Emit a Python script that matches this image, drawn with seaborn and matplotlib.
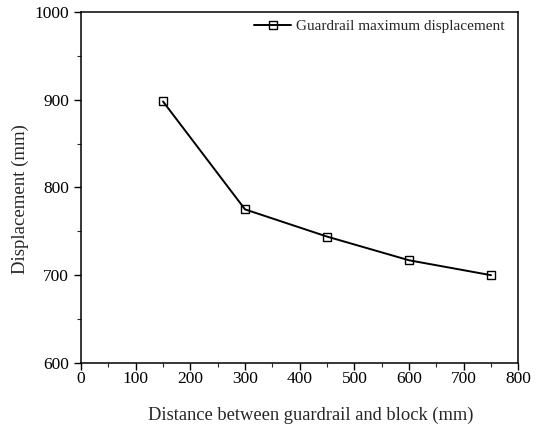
import matplotlib
matplotlib.use("Agg")
import matplotlib.pyplot as plt
import seaborn as sns
import pandas as pd
from matplotlib.ticker import MultipleLocator

distance = [150, 300, 450, 600, 750]
displacement = [898, 775, 744, 717, 700]
series_label = "Guardrail maximum displacement"
x_label = "Distance between guardrail and block (mm)"
y_label = "Displacement (mm)"

sns.set_theme(style="ticks")
plt.rcParams['font.family'] = ['Liberation Serif', 'DejaVu Serif']
plt.rcParams['mathtext.fontset'] = 'stix'

df = pd.DataFrame({"distance": distance, "displacement": displacement, "series": series_label})

fig = plt.figure(figsize=(5.4, 4.26), dpi=100)
ax = fig.add_axes([0.150, 0.148, 0.810, 0.824])

sns.lineplot(data=df, x="distance", y="displacement", hue="series", palette=["black"],
             marker="s", markersize=6, markerfacecolor="none", markeredgecolor="black",
             markeredgewidth=1.0, linewidth=1.4, ax=ax)

ax.set_xlim(0, 800)
ax.set_ylim(600, 1000)
ax.xaxis.set_major_locator(MultipleLocator(100))
ax.xaxis.set_minor_locator(MultipleLocator(50))
ax.yaxis.set_major_locator(MultipleLocator(100))
ax.yaxis.set_minor_locator(MultipleLocator(50))
ax.tick_params(axis="both", which="major", direction="out", length=5, width=1.0,
               labelsize=12.5, colors="black")
ax.tick_params(axis="x", which="major", pad=0.5)
ax.tick_params(axis="y", which="major", pad=3.5)
ax.tick_params(axis="both", which="minor", direction="out", length=3, width=0.8)
for s in ax.spines.values():
    s.set_visible(True)
    s.set_color("black")
    s.set_linewidth(1.1)

ax.set_xlabel(x_label, fontsize=13.3)
ax.set_ylabel(y_label, fontsize=13.5)
ax.xaxis.set_label_coords(0.526, -0.125)
ax.yaxis.set_label_coords(-0.12, 0.467)

leg = ax.legend(loc="upper right", bbox_to_anchor=(0.985, 1.0), frameon=False,
                fontsize=11, handlelength=2.4, handletextpad=0.3, borderaxespad=0.1)
leg.set_title(None)

fig.savefig("out.png", dpi=100)
